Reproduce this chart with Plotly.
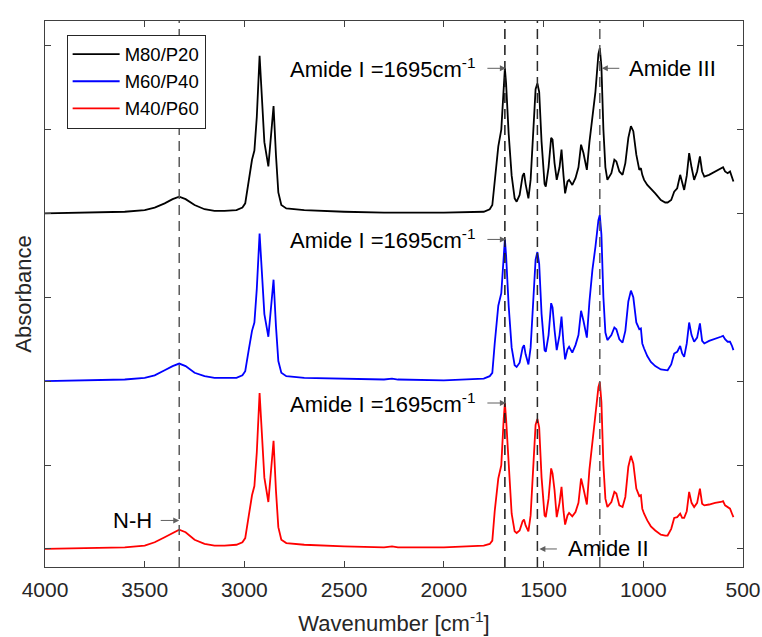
import plotly.graph_objects as go

# ---------------- data ----------------
WAVENUMBER = [
    4000, 3800, 3600, 3500, 3450, 3400, 3360, 3327, 3295, 3250,
    3200, 3150, 3100, 3040, 3010, 2996, 2978, 2962, 2950, 2938,
    2924, 2912, 2900, 2880, 2868, 2854, 2842, 2830, 2815, 2790,
    2700, 2500, 2300, 2260, 2230, 2000, 1800, 1770, 1757, 1745,
    1727, 1712, 1700, 1694, 1688, 1675, 1660, 1645, 1635, 1620,
    1605, 1598, 1590, 1576, 1565, 1550, 1540, 1531, 1522, 1510,
    1495, 1489, 1475, 1462, 1455, 1445, 1434, 1420, 1410, 1400,
    1392, 1380, 1372, 1356, 1340, 1325, 1312, 1300, 1283, 1270,
    1255, 1240, 1225, 1218, 1210, 1200, 1190, 1180, 1160, 1145,
    1135, 1120, 1104, 1090, 1075, 1062, 1050, 1035, 1020, 1012,
    1005, 996, 980, 962, 940, 912, 890, 878, 860, 845,
    830, 815, 805, 795, 782, 770, 758, 745, 730, 716,
    705, 694, 670, 640, 611, 600, 590, 577, 565, 555, 548,
]

M80_P20 = [
    0.00, 0.01, 0.02, 0.04, 0.07, 0.12, 0.17, 0.20, 0.17, 0.10,
    0.05, 0.03, 0.03, 0.04, 0.07, 0.12, 0.40, 0.64, 0.75, 1.15,
    1.88, 1.30, 0.85, 0.56, 0.85, 1.28, 0.70, 0.25, 0.10, 0.06,
    0.04, 0.02, 0.01, 0.01, 0.01, 0.01, 0.02, 0.05, 0.10, 0.40,
    0.80, 1.00, 1.55, 1.73, 1.55, 0.95, 0.45, 0.18, 0.14, 0.22,
    0.45, 0.48, 0.35, 0.18, 0.40, 1.10, 1.48, 1.55, 1.45, 0.85,
    0.35, 0.32, 0.55, 0.90, 0.88, 0.60, 0.40, 0.55, 0.76, 0.45,
    0.24, 0.38, 0.40, 0.34, 0.42, 0.55, 0.82, 0.72, 0.52, 0.85,
    1.15, 1.45, 1.90, 1.97, 1.75, 1.00, 0.55, 0.40, 0.48, 0.64,
    0.62, 0.50, 0.46, 0.60, 0.90, 1.04, 0.98, 0.70, 0.52, 0.54,
    0.46, 0.40, 0.34, 0.30, 0.24, 0.16, 0.13, 0.13, 0.16, 0.26,
    0.30, 0.46, 0.36, 0.28, 0.45, 0.72, 0.55, 0.40, 0.50, 0.68,
    0.50, 0.44, 0.46, 0.50, 0.54, 0.55, 0.50, 0.48, 0.50, 0.44, 0.38,
]

M60_P40 = [
    0.00, 0.01, 0.02, 0.04, 0.07, 0.13, 0.18, 0.21, 0.18, 0.10,
    0.06, 0.04, 0.04, 0.04, 0.07, 0.12, 0.38, 0.60, 0.70, 1.10,
    1.76, 1.22, 0.80, 0.53, 0.82, 1.21, 0.66, 0.24, 0.10, 0.06,
    0.04, 0.03, 0.02, 0.03, 0.02, 0.01, 0.03, 0.06, 0.10, 0.45,
    0.90, 1.05, 1.50, 1.69, 1.50, 0.90, 0.40, 0.19, 0.17, 0.22,
    0.40, 0.43, 0.32, 0.20, 0.40, 1.05, 1.45, 1.54, 1.40, 0.80,
    0.37, 0.35, 0.55, 0.93, 0.88, 0.61, 0.37, 0.55, 0.77, 0.45,
    0.26, 0.38, 0.41, 0.34, 0.43, 0.55, 0.84, 0.72, 0.52, 0.95,
    1.33, 1.60, 1.92, 1.98, 1.75, 1.00, 0.58, 0.49, 0.55, 0.64,
    0.62, 0.50, 0.46, 0.60, 0.95, 1.08, 1.00, 0.70, 0.62, 0.63,
    0.45, 0.39, 0.30, 0.23, 0.18, 0.14, 0.13, 0.13, 0.20, 0.33,
    0.35, 0.42, 0.33, 0.29, 0.45, 0.70, 0.55, 0.47, 0.52, 0.69,
    0.48, 0.45, 0.48, 0.51, 0.53, 0.54, 0.50, 0.47, 0.47, 0.42, 0.37,
]

M40_P60 = [
    0.00, 0.01, 0.02, 0.04, 0.08, 0.14, 0.19, 0.23, 0.20, 0.11,
    0.06, 0.04, 0.04, 0.05, 0.08, 0.13, 0.40, 0.64, 0.75, 1.15,
    1.86, 1.30, 0.85, 0.56, 0.86, 1.29, 0.70, 0.26, 0.11, 0.07,
    0.05, 0.03, 0.02, 0.03, 0.02, 0.02, 0.04, 0.06, 0.10, 0.45,
    0.84, 1.00, 1.55, 1.74, 1.55, 0.95, 0.42, 0.21, 0.19, 0.22,
    0.33, 0.35, 0.28, 0.21, 0.40, 1.05, 1.48, 1.55, 1.45, 0.85,
    0.40, 0.38, 0.60, 0.96, 0.90, 0.70, 0.38, 0.55, 0.74, 0.45,
    0.29, 0.40, 0.43, 0.39, 0.44, 0.55, 0.84, 0.72, 0.53, 0.95,
    1.32, 1.60, 1.93, 1.99, 1.75, 1.00, 0.60, 0.50, 0.56, 0.68,
    0.66, 0.52, 0.50, 0.62, 0.98, 1.11, 1.02, 0.72, 0.63, 0.64,
    0.48, 0.42, 0.34, 0.27, 0.22, 0.17, 0.16, 0.16, 0.24, 0.37,
    0.38, 0.42, 0.37, 0.37, 0.45, 0.68, 0.55, 0.50, 0.55, 0.72,
    0.54, 0.52, 0.53, 0.55, 0.56, 0.57, 0.52, 0.50, 0.48, 0.42, 0.38,
]

SERIES_NAMES = ["M80/P20", "M60/P40", "M40/P60"]
SERIES_VALUES = [M80_P20, M60_P40, M40_P60]
SERIES_OFFSETS = [4, 2, 0]          # vertical stacking of the spectra
X_TICKS = [4000, 3500, 3000, 2500, 2000, 1500, 1000, 500]
Y_TICKS = [0, 1, 2, 3, 4, 5, 6]

NH_BAND = 3327
AMIDE_I_BAND = 1694
AMIDE_II_BAND = 1531
AMIDE_III_BAND = 1218

for v in SERIES_VALUES:
    assert len(v) == len(WAVENUMBER)

# ---------------- styling ----------------
COLORS = ["#000000", "#0000FF", "#FF0000"]
FONT = "Liberation Sans, Arial, Helvetica, sans-serif"
AX_COLOR = "#404040"
TXT = "#262626"
ARROW_COL = "#606060"

fig = go.Figure()
for name, vals, off, col in zip(SERIES_NAMES, SERIES_VALUES, SERIES_OFFSETS, COLORS):
    fig.add_trace(go.Scatter(
        x=WAVENUMBER, y=[v + off for v in vals], mode="lines", name=name,
        line=dict(color=col, width=1.8),
    ))

# dashed band markers
for band, col in [(NH_BAND, "#5a5a5a"), (AMIDE_I_BAND, "#1a1a1a"),
                  (AMIDE_II_BAND, "#2a2a2a"), (AMIDE_III_BAND, "#5a5a5a")]:
    fig.add_shape(type="line", xref="x", yref="paper", x0=band, x1=band, y0=0, y1=1,
                  line=dict(color=col, width=1.5, dash="10px,6px"), layer="above")

ann_font = dict(family=FONT, size=22, color="#000000")


def arrow(x, y, ax, xshift=0):
    fig.add_annotation(x=x, y=y, xref="x", yref="y", text="", showarrow=True,
                       ax=ax, ay=0, axref="pixel", ayref="pixel",
                       arrowhead=2, arrowsize=1.2, arrowwidth=1, arrowcolor=ARROW_COL,
                       standoff=0, startstandoff=0, xshift=xshift)


def label(x, y, text, anchor, xshift):
    fig.add_annotation(x=x, y=y, xref="x", yref="y", text=text, showarrow=False,
                       xanchor=anchor, yanchor="middle", xshift=xshift,
                       font=ann_font)


idx_I = WAVENUMBER.index(AMIDE_I_BAND)
amide_I_text = "Amide I =1695cm<sup>-1</sup>"
for vals, off in zip(SERIES_VALUES, SERIES_OFFSETS):
    yy = vals[idx_I] + off
    arrow(AMIDE_I_BAND, yy, -20, xshift=1)
    label(AMIDE_I_BAND, yy, amide_I_text, "right", -27)

y_III = M80_P20[idx_I] + SERIES_OFFSETS[0]
arrow(AMIDE_III_BAND, y_III, 19, xshift=2)
label(AMIDE_III_BAND, y_III, "Amide III", "left", 27)

y_NH = 0.34
arrow(NH_BAND, y_NH, -20)
label(NH_BAND, y_NH, "N-H", "right", -25)

y_II = 0.0
arrow(AMIDE_II_BAND, y_II, 19, xshift=2)
label(AMIDE_II_BAND, y_II, "Amide II", "left", 29)

fig.update_layout(
    width=762, height=637,
    margin=dict(l=45, r=19, t=21, b=70),
    paper_bgcolor="white", plot_bgcolor="white",
    font=dict(family=FONT, size=21, color=TXT),
    showlegend=True,
    legend=dict(x=0.031, y=0.975, xanchor="left", yanchor="top",
                bgcolor="white", bordercolor="#262626", borderwidth=1,
                font=dict(family=FONT, size=18.5, color="#000000"),
                itemwidth=47, tracegroupgap=0),
    xaxis=dict(range=[4000, 500], tickvals=X_TICKS, ticks="inside", ticklen=6,
               tickcolor=AX_COLOR, showline=True, linecolor=AX_COLOR, linewidth=1,
               mirror="ticks", showgrid=False, zeroline=False, automargin=False,
               tickfont=dict(family=FONT, size=21, color=TXT),
               ticklabelstandoff=4,
               title=dict(text="Wavenumber [cm<sup>-1</sup>]", standoff=15,
                          font=dict(family=FONT, size=22, color=TXT))),
    yaxis=dict(range=[-0.215, 6.294], tickvals=Y_TICKS, ticks="inside", ticklen=6,
               tickcolor=AX_COLOR, showline=True, linecolor=AX_COLOR, linewidth=1,
               mirror="ticks", showgrid=False, zeroline=False, showticklabels=False,
               automargin=False,
               title=dict(text="Absorbance", standoff=6,
                          font=dict(family=FONT, size=22, color=TXT))),
)

fig.write_html("out.html", config={"displayModeBar": False},
               post_script="document.body.style.margin='0px';")
